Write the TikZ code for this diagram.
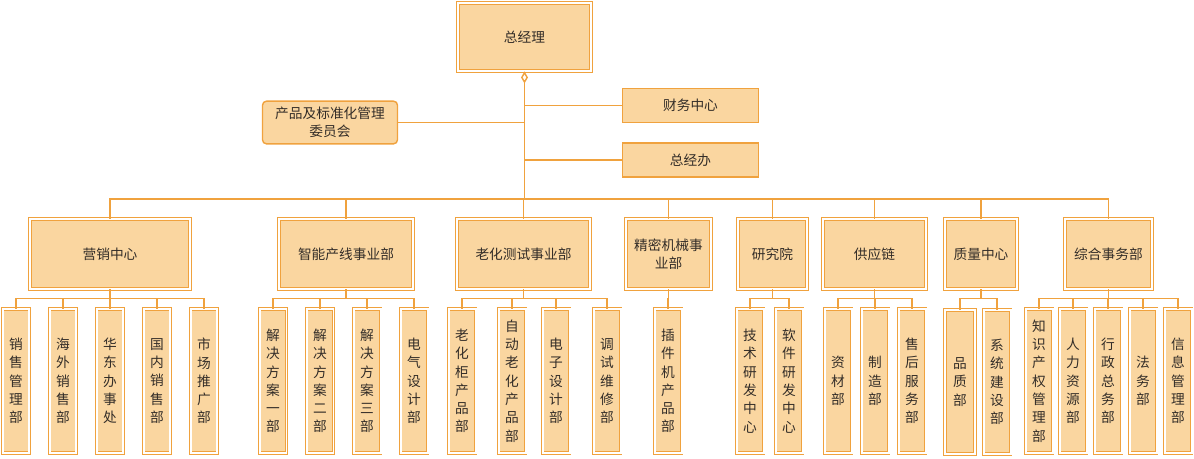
\documentclass[tikz,border=0pt]{standalone}
\usepackage{fontspec}
\setmainfont{Noto Sans CJK SC}
\usetikzlibrary{arrows.meta}
\definecolor{boxfill}{RGB}{250,214,160}
\definecolor{boxline}{RGB}{240,162,62}
\definecolor{txt}{RGB}{51,45,40}
\begin{document}
\begin{tikzpicture}[
    x=0.02cm, y=-0.02cm,
    font=\fontsize{7.8}{10.4}\selectfont, text=txt,
    dbox/.style={
        draw=boxline, double=white, double distance=0.04cm,
        line width=0.5pt, fill=boxfill, inner sep=1pt, align=center
    },
    sbox/.style={
        draw=boxline, line width=0.8pt, fill=boxfill, align=center,
        minimum width=2.72cm, minimum height=0.68cm
    },
    dept/.style={dbox, minimum height=1.40cm},
    unit/.style={dbox, minimum width=0.54cm, minimum height=2.88cm, text width=0.3cm},
    link/.style={draw=boxline, line width=0.8pt}
]
\useasboundingbox (0,0) rectangle (1194,458);

%% ── 总经理 ──────────────────────────────────────────────────────
\node[dbox, minimum width=2.66cm, minimum height=1.36cm] (gm) at (524.5,37) {总经理};
\coordinate (bus) at (524.5,199);

\node[sbox] (cw)  at (690.5,105.5) {财务中心};
\node[sbox] (zjb) at (690.5,160) {总经办};
\node[sbox, rounded corners=0.08cm, minimum width=2.70cm, minimum height=0.80cm]
    (cmt) at (330,122.5) {产品及标准化管理\\委员会};

\draw[link, {Diamond[open, fill=white, length=0.24cm, width=0.14cm]}-] (gm.south) -- (bus);
\draw[link] (cw.west) -- (cw.west -| gm.south);
\draw[link] (zjb.west) -- (zjb.west -| gm.south);
\draw[link] (cmt.east) -- (cmt.east -| gm.south);

%% ── 一级部门 ────────────────────────────────────────────────────
\node[dept, minimum width=3.20cm] (yx)  at (110,254)   {营销中心};
\node[dept, minimum width=2.68cm] (zn)  at (346,254)   {智能产线事业部};
\node[dept, minimum width=2.66cm] (lh)  at (523.5,254) {老化测试事业部};
\node[dept, minimum width=1.70cm] (jm)  at (668.5,254) {精密机械事\\业部};
\node[dept, minimum width=1.38cm] (yjy) at (772.5,254) {研究院};
\node[dept, minimum width=2.06cm] (gyl) at (874.5,254) {供应链};
\node[dept, minimum width=1.44cm] (zl)  at (981,254)   {质量中心};
\node[dept, minimum width=1.74cm] (zh)  at (1108.5,254) {综合事务部};

\foreach \d in {yx,zn,lh,jm,yjy,gyl,zl,zh}
    \draw[link] (bus) -| (\d.north);

%% ── 营销中心 ────────────────────────────────────────────────────
\node[unit] (yx1) at (16,381)  {销\\售\\管\\理\\部};
\node[unit] (yx2) at (63,381)  {海\\外\\销\\售\\部};
\node[unit] (yx3) at (110,381) {华\\东\\办\\事\\处};
\node[unit] (yx4) at (157,381) {国\\内\\销\\售\\部};
\node[unit] (yx5) at (204,381) {市\\场\\推\\广\\部};

%% ── 智能产线事业部 ──────────────────────────────────────────────
\node[unit] (zn1) at (273,381) {解\\决\\方\\案\\一\\部};
\node[unit] (zn2) at (320,381) {解\\决\\方\\案\\二\\部};
\node[unit] (zn3) at (367,381) {解\\决\\方\\案\\三\\部};
\node[unit] (zn4) at (414,381) {电\\气\\设\\计\\部};

%% ── 老化测试事业部 ──────────────────────────────────────────────
\node[unit] (lh1) at (462,381) {老\\化\\柜\\产\\品\\部};
\node[unit] (lh2) at (512,381) {自\\动\\老\\化\\产\\品\\部};
\node[unit] (lh3) at (556,381) {电\\子\\设\\计\\部};
\node[unit] (lh4) at (607,381) {调\\试\\维\\修\\部};

%% ── 精密机械事业部 / 研究院 ─────────────────────────────────────
\node[unit] (jm1)  at (668,381) {插\\件\\机\\产\\品\\部};
\node[unit] (yjy1) at (750,381) {技\\术\\研\\发\\中\\心};
\node[unit] (yjy2) at (789,381) {软\\件\\研\\发\\中\\心};

%% ── 供应链 / 质量中心 ───────────────────────────────────────────
\node[unit] (gyl1) at (838,381) {资\\材\\部};
\node[unit] (gyl2) at (875,381) {制\\造\\部};
\node[unit] (gyl3) at (912,381) {售\\后\\服\\务\\部};
\node[unit, minimum width=0.60cm] (zl1) at (960,382) {品\\质\\部};
\node[unit, minimum width=0.54cm] (zl2) at (997,382) {系\\统\\建\\设\\部};

%% ── 综合事务部 ──────────────────────────────────────────────────
\node[unit] (zh1) at (1039,381) {知\\识\\产\\权\\管\\理\\部};
\node[unit] (zh2) at (1073,381) {人\\力\\资\\源\\部};
\node[unit] (zh3) at (1108,381) {行\\政\\总\\务\\部};
\node[unit] (zh4) at (1143,381) {法\\务\\部};
\node[unit] (zh5) at (1178,381) {信\\息\\管\\理\\部};

%% ── 二级连线 ────────────────────────────────────────────────────
\foreach \p/\cs in {yx/{yx1,yx2,yx3,yx4,yx5}, zn/{zn1,zn2,zn3,zn4},
                    lh/{lh1,lh2,lh3,lh4}, jm/{jm1}, yjy/{yjy1,yjy2},
                    gyl/{gyl1,gyl2,gyl3}, zl/{zl1,zl2},
                    zh/{zh1,zh2,zh3,zh4,zh5}}
    \foreach \c in \cs
        \draw[link] (\p.south) -- ++(0,9) -| (\c.north);

\end{tikzpicture}
\end{document}
